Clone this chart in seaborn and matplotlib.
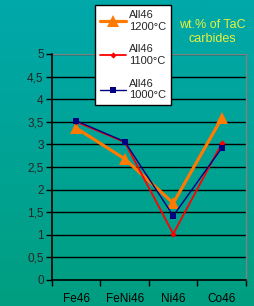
import numpy as np
import pandas as pd
import matplotlib
matplotlib.use("Agg")
import matplotlib.pyplot as plt
import seaborn as sns

# data
alloys = ["Fe46", "FeNi46", "Ni46", "Co46"]
tac_1200 = [3.36, 2.68, 1.70, 3.58]
tac_1100 = [3.50, 3.05, 1.02, 3.02]
tac_1000 = [3.52, 3.06, 1.42, 2.92]
series_names = ["All46\n1200°C", "All46\n1100°C", "All46\n1000°C"]
y_ticks = [0, 0.5, 1, 1.5, 2, 2.5, 3, 3.5, 4, 4.5, 5]

sns.set_theme(style="white")
plt.rcParams["font.family"] = ["Arial", "Liberation Sans", "DejaVu Sans"]

fig = plt.figure(figsize=(2.55, 3.06), dpi=100)

# teal gradient background
bg = fig.add_axes([0, 0, 1, 1], zorder=-10)
grad = np.linspace(0, 1, 256)[:, None]
top = np.array([0x00, 0xA8, 0xAA]) / 255
bot = np.array([0x00, 0x9E, 0x80]) / 255
img = top[None, None, :] * (1 - grad[:, :, None]) + bot[None, None, :] * grad[:, :, None]
bg.imshow(img, aspect="auto", extent=[0, 1, 0, 1])
bg.axis("off")

# plot area in pixel coords: x 52..246, y 54..280 (from top)
W, H = 255, 306
ax = fig.add_axes([52 / W, 1 - 280 / H, (246 - 52) / W, (280 - 54) / H])
ax.set_facecolor("none")

df = pd.DataFrame({
    "alloy": alloys * 3,
    "value": tac_1200 + tac_1100 + tac_1000,
    "series": [series_names[0]] * 4 + [series_names[1]] * 4 + [series_names[2]] * 4,
})

styles = [
    dict(color="#FF7A00", marker="^", markersize=8, linewidth=2.3),
    dict(color="#FF0000", marker="D", markersize=3.2, linewidth=1.3),
    dict(color="#000080", marker="s", markersize=4.5, linewidth=1.0),
]
for name, st in zip(series_names, styles):
    sub = df[df["series"] == name]
    sns.lineplot(data=sub, x="alloy", y="value", ax=ax, label=name,
                 markeredgewidth=0, **st)

ax.set_xlim(-0.5, 3.5)
ax.set_ylim(0, 5)
ax.set_yticks(y_ticks)
ax.set_yticklabels([f"{v:g}".replace(".", ",") for v in y_ticks], fontsize=8.5)
ax.set_xticks(range(len(alloys)))
ax.set_xticklabels(alloys, fontsize=8.5)
ax.set_xlabel("")
ax.set_ylabel("")
for v in y_ticks[1:]:
    ax.axhline(v, color="black", linewidth=1.0, zorder=0)

# tick marks at the category boundaries
ax.set_xticks(np.arange(-0.5, 4.0, 1.0), minor=True)
ax.tick_params(axis="x", which="major", length=0, pad=9, colors="black")
ax.tick_params(axis="x", which="minor", bottom=True, length=4, width=1, color="black")
ax.tick_params(axis="y", left=True, length=4, width=1, color="black", pad=2)

for side in ["left", "bottom"]:
    ax.spines[side].set_color("black")
    ax.spines[side].set_linewidth(1.2)
ax.spines["top"].set_visible(False)
ax.spines["right"].set_color("#808080")
ax.spines["right"].set_linewidth(1.0)
ax.axhline(5, color="#808080", linewidth=1.0, zorder=0)

ax.get_legend().remove()
handles, labels = ax.get_legend_handles_labels()
leg = fig.legend(handles, labels, loc="upper left",
                 bbox_to_anchor=(95 / W, 1 - 5 / H), fontsize=8,
                 frameon=True, fancybox=False, framealpha=1,
                 edgecolor="black", borderpad=0.45, handlelength=2.3,
                 handletextpad=0.3, labelspacing=1.15, borderaxespad=0)
leg.get_frame().set_linewidth(1.0)

fig.text(212 / W, 1 - 32 / H, "wt.% of TaC\ncarbides", color="#E8F040",
         fontsize=9, ha="center", va="center", linespacing=1.15)

fig.savefig("out.png", dpi=100)
plt.close(fig)
